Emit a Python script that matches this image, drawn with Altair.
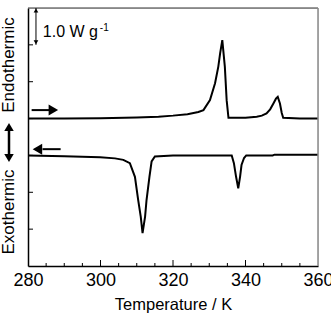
import altair as alt
import pandas as pd

FONT = "Liberation Sans"

# DSC traces: heat flow (W g^-1, offset baselines) against temperature (K)
heat_T = [280, 290, 300, 310, 316, 320, 324, 327, 328.4, 330.2, 331.6, 332.5, 333.0, 333.6,
          334.3, 334.8, 335.3, 336, 340, 343.1, 344.5, 345.8, 346.8, 347.7, 348.4, 348.9,
          349.5, 350.0, 350.4, 355, 360]
heat_P = [4.00, 4.00, 4.01, 4.03, 4.05, 4.08, 4.12, 4.18, 4.23, 4.50, 4.96, 5.41, 5.77, 6.13,
          5.41, 4.50, 4.02, 4.02, 4.02, 4.05, 4.08, 4.14, 4.25, 4.41, 4.54, 4.59,
          4.41, 4.15, 4.02, 4.00, 4.00]

cool_T = [280, 290, 299.9, 304, 306.3, 308.1, 309.5, 310.4, 311.1, 311.6, 312.3, 312.7, 313.5,
          314.1, 315.0, 320, 330, 336.2, 336.8, 337.4, 338.0, 338.5, 338.9, 339.6, 340.2,
          347.5, 348, 360]
cool_P = [3.00, 2.98, 2.95, 2.92, 2.88, 2.79, 2.42, 1.79, 1.34, 0.89, 1.34, 1.79, 2.42,
          2.84, 2.97, 3.00, 3.00, 3.00, 2.79, 2.42, 2.11, 2.42, 2.74, 2.93, 3.00,
          3.00, 3.02, 3.02]

x_major = [300, 320, 340]
x_minor = [285, 290, 295, 305, 310, 315, 325, 330, 335, 345, 350, 355]
y_ticks = [1, 2, 3, 4, 5, 6]
x_labels = [280, 300, 320, 340, 360]

x_scale = alt.Scale(domain=[280, 360], nice=False, zero=False)
y_scale = alt.Scale(domain=[0, 7], nice=False, zero=False)

x_axis = alt.Axis(values=x_labels, ticks=False, grid=False, domainColor="black",
                  domainWidth=1.5, labelFont=FONT, labelFontSize=18, labelColor="black",
                  labelFlush=False, labelOverlap=False, labelPadding=5,
                  title="Temperature / K", titleFont=FONT, titleFontSize=16.5,
                  titleFontWeight="normal", titleColor="black", titlePadding=7)
y_axis = alt.Axis(labels=False, ticks=False, grid=False, domainColor="black",
                  domainWidth=1.5, title=None)


def X(field="T"):
    return alt.X(f"{field}:Q", scale=x_scale, axis=x_axis)


def Y(field="P"):
    return alt.Y(f"{field}:Q", scale=y_scale, axis=y_axis)


heat = pd.DataFrame({"T": heat_T, "P": heat_P})
cool = pd.DataFrame({"T": cool_T, "P": cool_P})

heat_line = alt.Chart(heat).mark_line(color="black", strokeWidth=2).encode(x=X(), y=Y())
cool_line = alt.Chart(cool).mark_line(color="black", strokeWidth=2).encode(x=X(), y=Y())

# inward ticks
major_ticks = alt.Chart(pd.DataFrame({"T": x_major})).mark_rule(
    color="black", strokeWidth=1).encode(x=X(), y=alt.value(258), y2=alt.value(252))
minor_ticks = alt.Chart(pd.DataFrame({"T": x_minor})).mark_rule(
    color="black", strokeWidth=1).encode(x=X(), y=alt.value(258), y2=alt.value(255))
left_ticks = alt.Chart(pd.DataFrame({"P": y_ticks})).mark_rule(
    color="black", strokeWidth=1).encode(y=Y(), x=alt.value(0), x2=alt.value(5))

# frame: dark top edge, grey right edge
top_edge = alt.Chart(pd.DataFrame({"P": [7]})).mark_rule(
    color="#333333", strokeWidth=1).encode(y=Y(), x=alt.value(0), x2=alt.value(290))
right_edge = alt.Chart(pd.DataFrame({"T": [360]})).mark_rule(
    color="#8a8a8a", strokeWidth=1.5).encode(x=X(), y=alt.value(0), y2=alt.value(258))

# scale bar: 1.0 W g^-1
bar = pd.DataFrame({"T": [282.2], "P": [6.0], "P2": [7.0]})
scale_bar = alt.Chart(bar).mark_rule(color="black", strokeWidth=1).encode(
    x=X(), y=Y(), y2=alt.Y2("P2:Q"))
bar_heads = alt.Chart(pd.DataFrame({"T": [282.2, 282.2], "P": [6.93, 6.07],
                                    "s": ["triangle-up", "triangle-down"]})).mark_point(
    filled=True, color="black", size=22, opacity=1).encode(
    x=X(), y=Y(), shape=alt.Shape("s:N", scale=None))
bar_anchor = pd.DataFrame({"T": [284.1], "P": [6.22]})
bar_text = alt.Chart(bar_anchor).mark_text(
    text="1.0 W g", font=FONT, fontSize=16, align="left", baseline="alphabetic",
    color="black").encode(x=X(), y=Y())
bar_sup = alt.Chart(bar_anchor).mark_text(
    text="-1", font=FONT, fontSize=10, align="left", baseline="alphabetic", dx=57, dy=-6,
    color="black").encode(x=X(), y=Y())

# direction arrows for the heating and cooling runs
arrow_lines = pd.DataFrame({"T": [281.0, 284.0], "T2": [286.0, 289.0], "P": [4.23, 3.17]})
dir_lines = alt.Chart(arrow_lines).mark_rule(color="black", strokeWidth=2).encode(
    x=X(), x2=alt.X2("T2:Q"), y=Y())
dir_heads = alt.Chart(pd.DataFrame({"T": [287.0, 282.6], "P": [4.23, 3.17],
                                    "s": ["triangle-right", "triangle-left"]})).mark_point(
    filled=True, color="black", size=120, opacity=1).encode(
    x=X(), y=Y(), shape=alt.Shape("s:N", scale=None))

# side labels with the endo/exo double arrow
endo_text = alt.Chart(pd.DataFrame({"label": ["Endothermic"]})).mark_text(
    font=FONT, fontSize=17, angle=270, align="center", baseline="middle",
    color="black").encode(text="label:N", x=alt.value(-19), y=alt.value(57))
exo_text = alt.Chart(pd.DataFrame({"label": ["Exothermic"]})).mark_text(
    font=FONT, fontSize=17, angle=270, align="center", baseline="middle",
    color="black").encode(text="label:N", x=alt.value(-19), y=alt.value(204))
dbl_line = alt.Chart(pd.DataFrame({"k": [0]})).mark_rule(color="black", strokeWidth=2.5).encode(
    x=alt.value(-19), y=alt.value(118), y2=alt.value(150))
dbl_up = alt.Chart(pd.DataFrame({"k": [0]})).mark_point(
    shape="triangle-up", filled=True, color="black", size=90, opacity=1).encode(
    x=alt.value(-19), y=alt.value(119))
dbl_down = alt.Chart(pd.DataFrame({"k": [0]})).mark_point(
    shape="triangle-down", filled=True, color="black", size=90, opacity=1).encode(
    x=alt.value(-19), y=alt.value(150))

chart = alt.layer(
    heat_line, cool_line, major_ticks, minor_ticks, left_ticks, top_edge, right_edge,
    scale_bar, bar_heads, bar_text, bar_sup, dir_lines, dir_heads,
    endo_text, exo_text, dbl_line, dbl_up, dbl_down,
).properties(
    width=290, height=258,
    autosize=alt.AutoSizeParams(type="none"),
    padding={"left": 28, "top": 8, "right": 13, "bottom": 50},
).configure_view(stroke=None).configure(background="white")

chart.save("out.html", embed_options={"renderer": "svg", "actions": False})
